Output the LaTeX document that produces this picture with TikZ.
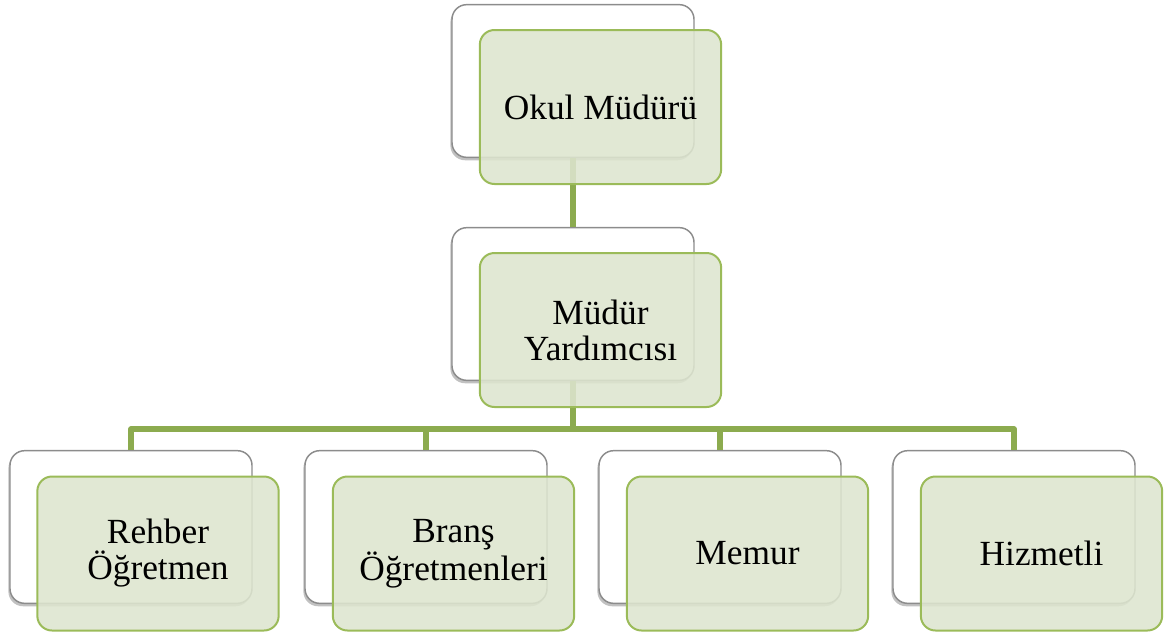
\documentclass[tikz,border=0pt]{standalone}
\usepackage{fontspec}
\setmainfont{Liberation Serif}
\usetikzlibrary{shadows}
\definecolor{gborder}{HTML}{9BBB59}
\definecolor{gfill}{HTML}{DDE5CF}
\definecolor{gline}{HTML}{8CAB4F}
\definecolor{wborder}{HTML}{8C8C8C}
\tikzset{
  backbox/.style={draw=wborder, line width=1.1pt, fill=white, rounded corners=11pt,
    minimum width=181.5pt, minimum height=114.5pt, inner sep=0pt,
    drop shadow={shadow xshift=-1.2pt, shadow yshift=-2.2pt, opacity=0.35, fill=black!70}},
  frontbox/.style={draw=gborder, line width=1.5pt, fill=gfill, fill opacity=0.88,
    text opacity=1, rounded corners=11pt,
    minimum width=181pt, minimum height=115.5pt, inner sep=0pt, align=center,
    font=\fontsize{26.5}{27}\selectfont},
  conn/.style={draw=gline, line width=3.8pt, line join=round}
}
\begin{document}
\begin{tikzpicture}[x=0.75pt,y=-0.75pt]
\useasboundingbox (0,0) rectangle (1164,632);
% back boxes
\node[backbox] (tw) at (573,81) {};
\node[backbox] (mw) at (573,304) {};
\node[backbox] (aw) at (131,527) {};
\node[backbox] (bw) at (426,527) {};
\node[backbox] (cw) at (720,527) {};
\node[backbox] (dw) at (1014,527) {};
% connectors
\coordinate (bus) at (573,429);
\draw[conn] (tw.south) -- (mw.north);
\draw[conn] (mw.south) -- (bus);
\draw[conn] (bus) -| (aw.north);
\draw[conn] (bus) -| (bw.north);
\draw[conn] (bus) -| (cw.north);
\draw[conn] (bus) -| (dw.north);
% front boxes
\node[frontbox] (tg) at (600.5,107) {Okul Müdürü};
\node[frontbox] (mg) at (600.5,330) {Müdür\\Yardımcısı};
\node[frontbox] (ag) at (158,553.5) {Rehber\\Öğretmen};
\node[frontbox] (bg) at (453.5,553.5) {Branş\\Öğretmenleri};
\node[frontbox] (cg) at (747.5,553.5) {Memur};
\node[frontbox] (dg) at (1041.5,553.5) {Hizmetli};
\end{tikzpicture}
\end{document}
